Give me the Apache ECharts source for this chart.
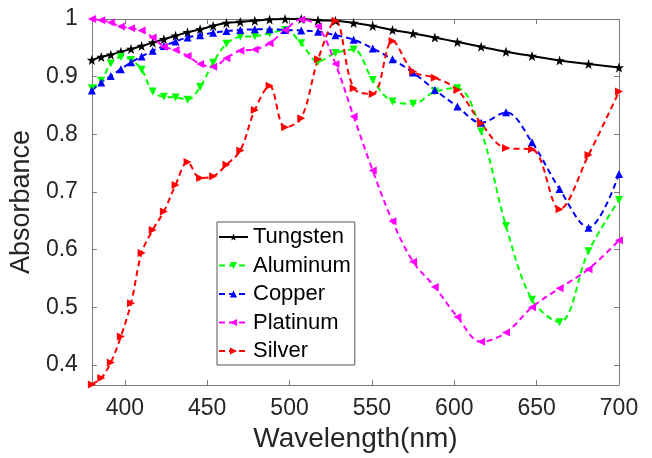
<!DOCTYPE html>
<html>
<head>
<meta charset="utf-8">
<script src="https://cdn.jsdelivr.net/npm/echarts@6/dist/echarts.min.js"></script>
<style>
html,body{margin:0;padding:0;background:#fff;}
#chart{width:652px;height:458px;}
</style>
</head>
<body>
<div id="chart"></div>
<script>
// Wavelength samples (nm), shared by all series
var wavelengths = [380.0,385.7,391.5,397.6,403.8,410.2,416.9,423.7,430.8,438.1,445.7,453.6,461.7,470.1,478.9,487.9,497.3,507.1,517.3,527.9,538.9,550.5,562.5,575.0,588.2,601.9,616.3,631.4,647.2,663.9,681.5,700.0];
var tungsten = [0.929,0.934,0.938,0.943,0.948,0.953,0.959,0.965,0.971,0.977,0.982,0.988,0.993,0.995,0.997,0.999,1.0,1.0,0.998,0.997,0.993,0.988,0.981,0.975,0.968,0.960,0.952,0.943,0.936,0.928,0.922,0.916];
var aluminum = [0.880,0.893,0.923,0.934,0.929,0.912,0.874,0.865,0.864,0.860,0.882,0.924,0.957,0.969,0.970,0.975,0.981,0.958,0.926,0.941,0.947,0.894,0.857,0.853,0.874,0.880,0.805,0.641,0.513,0.474,0.597,0.686];
var copper = [0.876,0.890,0.901,0.913,0.925,0.935,0.945,0.953,0.961,0.968,0.972,0.976,0.979,0.981,0.982,0.982,0.981,0.980,0.978,0.972,0.964,0.949,0.930,0.907,0.877,0.848,0.820,0.838,0.786,0.705,0.638,0.731];
var platinum = [1.0,0.998,0.994,0.987,0.984,0.980,0.968,0.952,0.946,0.936,0.922,0.917,0.932,0.945,0.947,0.958,0.981,0.999,0.987,0.922,0.831,0.737,0.649,0.579,0.535,0.483,0.440,0.456,0.500,0.533,0.566,0.616];
var silver = [0.366,0.377,0.404,0.449,0.507,0.594,0.634,0.666,0.712,0.752,0.724,0.727,0.747,0.772,0.842,0.884,0.812,0.828,0.930,0.997,0.880,0.870,0.962,0.909,0.898,0.877,0.819,0.776,0.774,0.670,0.764,0.874];
var xTicks = [400,450,500,550,600,650,700];
var yTicks = [0.4,0.5,0.6,0.7,0.8,0.9,1.0];
var seriesNames = ['Tungsten','Aluminum','Copper','Platinum','Silver'];

function pairs(vals){ return wavelengths.map(function(x,i){ return [x, vals[i]]; }); }

var FONT = "'Liberation Sans', Arial, sans-serif";
var AX = '#7a7a7a';
var TXT = '#262626';
var star = 'path://M0,-10 L2.35,-3.24 L9.51,-3.09 L3.8,1.24 L5.88,8.09 L0,4 L-5.88,8.09 L-3.8,1.24 L-9.51,-3.09 L-2.35,-3.24 Z';

function dashed(name, vals, color, rot){
  return {
    name: name, type: 'line', data: pairs(vals), smooth: 0.35,
    symbol: 'triangle', symbolSize: 8, symbolRotate: rot,
    lineStyle: {color: color, width: 2, type: [6,4]},
    itemStyle: {color: color}, z: 3
  };
}

var chart = echarts.init(document.getElementById('chart'), null, {renderer: 'canvas'});
chart.setOption({
  animation: false,
  backgroundColor: '#fff',
  textStyle: {fontFamily: FONT},
  grid: {left: 86, right: 33, top: 19, bottom: 73, containLabel: false},
  legend: {
    orient: 'vertical', left: 217, top: 222,
    padding: [4, 4, 3, 1], itemGap: 6.5, itemWidth: 29, itemHeight: 9,
    borderColor: '#555', borderWidth: 1, backgroundColor: '#fff',
    textStyle: {fontSize: 22, color: '#000', fontFamily: FONT, lineHeight: 22},
    data: seriesNames
  },
  xAxis: [{
    type: 'value', min: 380, max: 700, position: 'bottom',
    name: 'Wavelength(nm)', nameLocation: 'middle', nameGap: 37,
    nameTextStyle: {fontSize: 28, color: TXT, fontFamily: FONT},
    axisLine: {show: true, lineStyle: {color: AX, width: 1}},
    axisTick: {show: true, inside: true, length: 5, customValues: xTicks, lineStyle: {color: AX}},
    axisLabel: {show: true, customValues: xTicks, margin: 12, fontSize: 23, color: TXT, fontFamily: FONT},
    splitLine: {show: false}
  }, {
    type: 'value', min: 380, max: 700, position: 'top',
    axisLine: {show: true, onZero: false, lineStyle: {color: AX, width: 1}},
    axisTick: {show: true, inside: true, length: 5, customValues: xTicks, lineStyle: {color: AX}},
    axisLabel: {show: false}, splitLine: {show: false}
  }],
  yAxis: [{
    type: 'value', min: 0.365, max: 1, position: 'left',
    name: 'Absorbance', nameLocation: 'middle', nameGap: 46,
    nameTextStyle: {fontSize: 27, color: TXT, fontFamily: FONT},
    axisLine: {show: true, lineStyle: {color: AX, width: 1}},
    axisTick: {show: true, inside: true, length: 5, customValues: yTicks, lineStyle: {color: AX}},
    axisLabel: {show: true, customValues: yTicks, margin: 14, fontSize: 23, color: TXT, fontFamily: FONT,
      formatter: function(v){ return String(+(+v).toFixed(1)); }},
    splitLine: {show: false}
  }, {
    type: 'value', min: 0.365, max: 1, position: 'right',
    axisLine: {show: true, onZero: false, lineStyle: {color: AX, width: 1}},
    axisTick: {show: true, inside: true, length: 5, customValues: yTicks, lineStyle: {color: AX}},
    axisLabel: {show: false}, splitLine: {show: false}
  }],
  series: [
    {
      name: 'Tungsten', type: 'line', data: pairs(tungsten), smooth: true,
      symbol: star, symbolSize: 10,
      lineStyle: {color: '#000', width: 2}, itemStyle: {color: '#000'}, z: 3
    },
    dashed('Aluminum', aluminum, '#00ff00', 180),
    dashed('Copper', copper, '#0000ff', 0),
    dashed('Platinum', platinum, '#ff00ff', 90),
    dashed('Silver', silver, '#ff0000', -90)
  ]
});
</script>
</body>
</html>
